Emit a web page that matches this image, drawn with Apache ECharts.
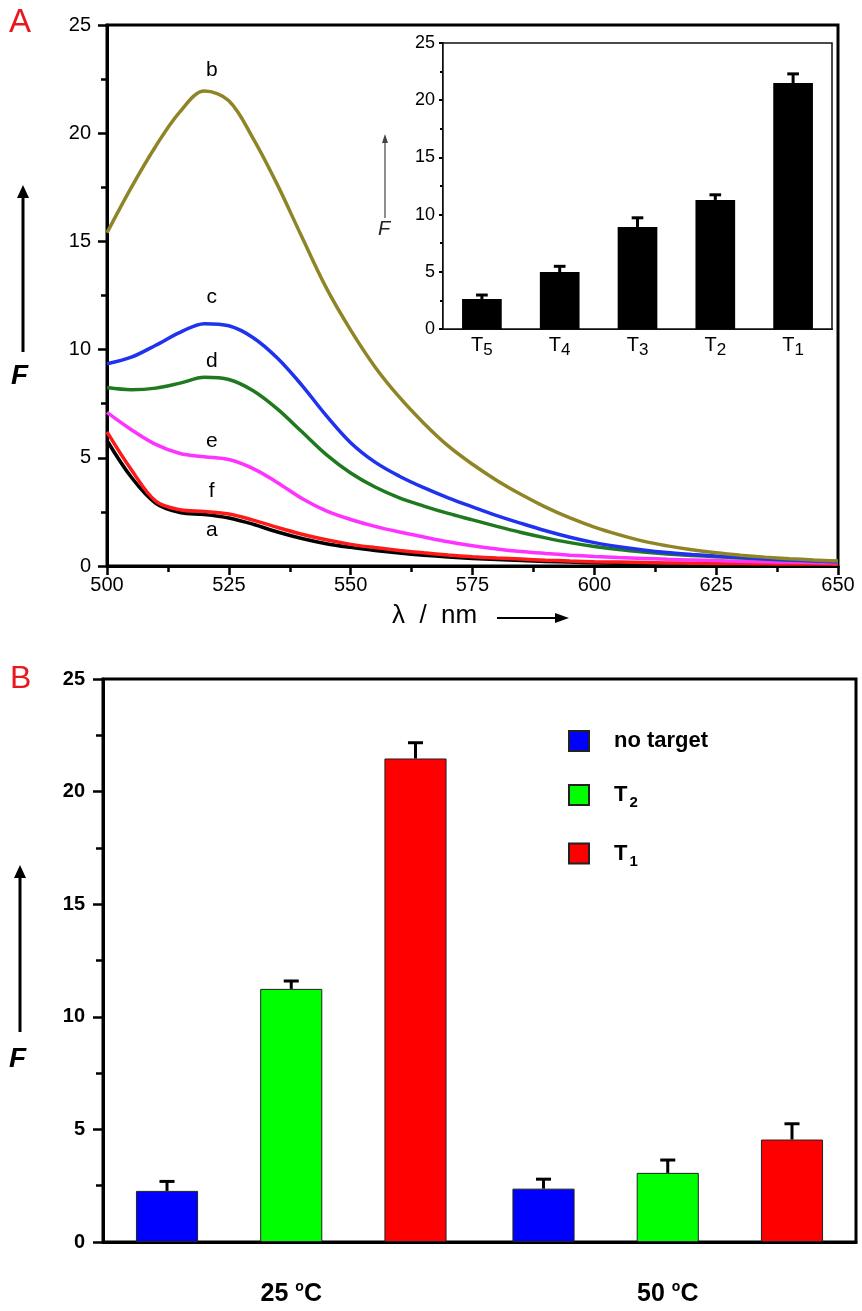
<!DOCTYPE html>
<html>
<head>
<meta charset="utf-8">
<script src="https://cdn.jsdelivr.net/npm/echarts@6/dist/echarts.min.js"></script>
<style>
  html, body { margin: 0; padding: 0; background: #fff; }
  #chart { width: 862px; height: 1311px; }
</style>
</head>
<body>
<div id="chart"></div>
<script>
// ---- panel A: spectra ----
var wavelength = [500, 505, 510, 515, 520, 525, 530, 535, 540, 545, 550, 555, 560, 565, 570, 575,
                  580, 585, 590, 595, 600, 605, 610, 615, 620, 625, 630, 635, 640, 645, 650];
var curveA = [5.8, 4.1, 2.9, 2.47, 2.38, 2.22, 1.93, 1.57, 1.27, 1.03, 0.86, 0.72, 0.6, 0.5, 0.42, 0.35,
              0.3, 0.25, 0.21, 0.18, 0.15, 0.13, 0.11, 0.1, 0.09, 0.08, 0.07, 0.06, 0.06, 0.05, 0.05];
var curveB = [15.4, 17.5, 19.4, 21.0, 21.95, 21.5, 19.75, 17.6, 15.2, 12.85, 10.9, 9.2, 7.8, 6.6, 5.55, 4.7,
              3.95, 3.3, 2.72, 2.22, 1.8, 1.45, 1.15, 0.93, 0.75, 0.61, 0.5, 0.41, 0.34, 0.28, 0.23];
var curveC = [9.35, 9.65, 10.2, 10.8, 11.2, 11.1, 10.55, 9.6, 8.35, 6.95, 5.7, 4.8, 4.15, 3.62, 3.15, 2.73,
              2.33, 1.97, 1.63, 1.33, 1.08, 0.89, 0.74, 0.62, 0.53, 0.46, 0.4, 0.34, 0.29, 0.24, 0.2];
var curveD = [8.25, 8.15, 8.22, 8.45, 8.72, 8.62, 8.1, 7.25, 6.2, 5.15, 4.3, 3.65, 3.15, 2.77, 2.43, 2.13,
              1.83, 1.55, 1.3, 1.08, 0.9, 0.76, 0.65, 0.56, 0.49, 0.43, 0.37, 0.32, 0.27, 0.23, 0.2];
var curveE = [7.1, 6.3, 5.62, 5.2, 5.05, 4.92, 4.5, 3.85, 3.12, 2.55, 2.15, 1.83, 1.57, 1.34, 1.12, 0.94,
              0.79, 0.67, 0.58, 0.5, 0.44, 0.39, 0.35, 0.31, 0.28, 0.25, 0.22, 0.2, 0.18, 0.16, 0.15];
var curveF = [6.2, 4.45, 3.0, 2.6, 2.52, 2.4, 2.12, 1.78, 1.47, 1.21, 1.0, 0.85, 0.72, 0.61, 0.51, 0.43,
              0.37, 0.32, 0.27, 0.23, 0.2, 0.18, 0.16, 0.14, 0.13, 0.12, 0.11, 0.1, 0.09, 0.09, 0.08];

// ---- inset: bars T5..T1 ----
var insetCats = ['5', '4', '3', '2', '1'];
var insetValues = [2.62, 4.98, 8.92, 11.28, 21.5];
var insetErrors = [0.35, 0.5, 0.8, 0.45, 0.8];

// ---- panel B ----
var tempCats = ['25', '50'];
var noTarget = [2.27, 2.37];
var noTargetErr = [0.42, 0.42];
var t2Values = [11.24, 3.07];
var t2Err = [0.35, 0.57];
var t1Values = [21.47, 4.55];
var t1Err = [0.7, 0.7];

var FONT = 'Liberation Sans, Arial, sans-serif';
var chart = echarts.init(document.getElementById('chart'));

function pairs(arr) {
  return wavelength.map(function (w, i) { return [w, arr[i]]; });
}

function curve(name, arr, color, label, labelY) {
  return {
    name: name, type: 'line', xAxisIndex: 0, yAxisIndex: 0,
    data: pairs(arr), showSymbol: false, smooth: 0.35,
    lineStyle: { color: color, width: 3.5 },
    markPoint: {
      symbol: 'circle', symbolSize: 1,
      itemStyle: { color: 'rgba(0,0,0,0)' },
      label: { show: true, position: 'inside', formatter: label, color: '#000', fontSize: 21, fontFamily: FONT },
      data: [{ coord: [521.5, labelY], name: label }]
    }
  };
}

// error bars drawn as a custom series; k = position of the bar inside its group
function errorBars(xi, yi, vals, errs, color, k, frac, capFrac) {
  return {
    type: 'custom', xAxisIndex: xi, yAxisIndex: yi, z: 5,
    data: vals.map(function (v, i) { return [i, v, errs[i]]; }),
    encode: { x: 0, y: 1 },
    renderItem: function (params, api) {
      var band = api.size([1, 0])[0];
      var base = api.coord([api.value(0), api.value(1)]);
      var top = api.coord([api.value(0), api.value(1) + api.value(2)]);
      var cx = base[0] + k * 2 * frac * band;
      var cw = capFrac * band / 2;
      var st = { stroke: color, lineWidth: 3 };
      return {
        type: 'group',
        children: [
          { type: 'line', shape: { x1: cx, y1: base[1], x2: cx, y2: top[1] }, style: st },
          { type: 'line', shape: { x1: cx - cw, y1: top[1], x2: cx + cw, y2: top[1] }, style: st }
        ]
      };
    }
  };
}

function arrowUp(x, yTop, yBottom, width, color) {
  return [
    { type: 'line', shape: { x1: x, y1: yBottom, x2: x, y2: yTop + 8 }, style: { stroke: color, lineWidth: width } },
    { type: 'polygon', shape: { points: [[x, yTop], [x - 3 - width, yTop + 13], [x + 3 + width, yTop + 13]] }, style: { fill: color } }
  ];
}

var option = {
  backgroundColor: '#fff',
  animation: false,
  grid: [
    { left: 107, top: 25, right: 24, bottom: 745, show: true, borderColor: '#000', borderWidth: 3, backgroundColor: 'transparent' },
    { left: 443, top: 43, right: 30, bottom: 982, show: true, borderColor: '#111', borderWidth: 1.5, backgroundColor: '#fff', z: 3 },
    { left: 103, top: 679, right: 6, bottom: 69, show: true, borderColor: '#000', borderWidth: 3 }
  ],
  xAxis: [
    {
      gridIndex: 0, type: 'value', min: 500, max: 650, interval: 25,
      axisLine: { lineStyle: { color: '#000', width: 3 } },
      axisTick: { show: true, length: 9, lineStyle: { color: '#000', width: 2.5 } },
      minorTick: { show: true, splitNumber: 2, length: 6, lineStyle: { color: '#000', width: 2.5 } },
      splitLine: { show: false },
      axisLabel: { color: '#000', fontSize: 20, fontFamily: FONT, margin: 9 }
    },
    {
      gridIndex: 1, type: 'category', data: insetCats,
      axisLine: { lineStyle: { color: '#000', width: 2 } },
      axisTick: { show: false },
      axisLabel: {
        margin: 6,
        formatter: function (v) { return '{t|T}{s|' + v + '}'; },
        rich: {
          t: { fontSize: 20, color: '#000', fontFamily: FONT, verticalAlign: 'top', lineHeight: 20 },
          s: { fontSize: 17, color: '#000', fontFamily: FONT, padding: [10, 0, 0, 0], lineHeight: 20 }
        }
      }
    },
    {
      gridIndex: 2, type: 'category', data: tempCats,
      axisLine: { lineStyle: { color: '#000', width: 3 } },
      axisTick: { show: false },
      axisLabel: {
        margin: 38,
        formatter: function (v) { return '{n|' + v + ' }{o|o}{n|C}'; },
        rich: {
          n: { fontSize: 25, fontWeight: 'bold', color: '#000', fontFamily: FONT },
          o: { fontSize: 14, fontWeight: 'bold', color: '#000', fontFamily: FONT, padding: [0, 0, 14, 0] }
        }
      }
    }
  ],
  yAxis: [
    {
      gridIndex: 0, type: 'value', min: 0, max: 25, interval: 5,
      axisLine: { show: true, lineStyle: { color: '#000', width: 3 } },
      axisTick: { show: true, length: 9, lineStyle: { color: '#000', width: 2.5 } },
      minorTick: { show: true, splitNumber: 2, length: 6, lineStyle: { color: '#000', width: 2.5 } },
      splitLine: { show: false },
      axisLabel: { color: '#000', fontSize: 20, fontFamily: FONT, margin: 16 }
    },
    {
      gridIndex: 1, type: 'value', min: 0, max: 25, interval: 5,
      axisLine: { show: true, lineStyle: { color: '#000', width: 2 } },
      axisTick: { show: true, length: 4, lineStyle: { color: '#000', width: 2 } },
      minorTick: { show: true, splitNumber: 2, length: 3, lineStyle: { color: '#000', width: 2 } },
      splitLine: { show: false },
      axisLabel: { color: '#000', fontSize: 18, fontFamily: FONT, margin: 8 }
    },
    {
      gridIndex: 2, type: 'value', min: 0, max: 25, interval: 5,
      axisLine: { show: true, lineStyle: { color: '#000', width: 3 } },
      axisTick: { show: true, length: 10, lineStyle: { color: '#000', width: 2.5 } },
      minorTick: { show: true, splitNumber: 2, length: 7, lineStyle: { color: '#000', width: 2.5 } },
      splitLine: { show: false },
      axisLabel: { color: '#000', fontSize: 20, fontWeight: 'bold', fontFamily: FONT, margin: 18 }
    }
  ],
  legend: {
    orient: 'vertical', left: 563, top: 725,
    itemWidth: 20, itemHeight: 20, itemGap: 32,
    icon: 'rect',
    data: ['no target', 'T2', 'T1'],
    formatter: function (n) {
      if (n === 'no target') return '{b|no target}';
      return '{b|T}{s|' + n.slice(1) + '}';
    },
    textStyle: {
      padding: [0, 0, 0, 20],
      rich: {
        b: { fontSize: 22, fontWeight: 'bold', color: '#000', fontFamily: FONT },
        s: { fontSize: 15, fontWeight: 'bold', color: '#000', fontFamily: FONT, padding: [16, 0, 0, 2] }
      }
    }
  },
  series: [
    curve('a', curveA, '#000000', 'a', 1.66),
    curve('f', curveF, '#ff1a1a', 'f', 3.45),
    curve('e', curveE, '#ff33ff', 'e', 5.75),
    curve('d', curveD, '#1f7a1f', 'd', 9.45),
    curve('c', curveC, '#1e32f0', 'c', 12.4),
    curve('b', curveB, '#8f8526', 'b', 22.9),
    {
      type: 'bar', xAxisIndex: 1, yAxisIndex: 1, data: insetValues, z: 4,
      barWidth: '51%', itemStyle: { color: '#000' }
    },
    errorBars(1, 1, insetValues, insetErrors, '#000', 0, 0, 0.15),
    {
      name: 'no target', type: 'bar', xAxisIndex: 2, yAxisIndex: 2, data: noTarget,
      barWidth: '16.5%', barGap: '100%',
      itemStyle: { color: '#0000ff', borderColor: '#222', borderWidth: 1 }
    },
    {
      name: 'T2', type: 'bar', xAxisIndex: 2, yAxisIndex: 2, data: t2Values,
      barWidth: '16.5%', barGap: '100%',
      itemStyle: { color: '#00ff00', borderColor: '#222', borderWidth: 1 }
    },
    {
      name: 'T1', type: 'bar', xAxisIndex: 2, yAxisIndex: 2, data: t1Values,
      barWidth: '16.5%', barGap: '100%',
      itemStyle: { color: '#ff0000', borderColor: '#222', borderWidth: 1 }
    },
    errorBars(2, 2, noTarget, noTargetErr, '#000', -1, 0.165, 0.04),
    errorBars(2, 2, t2Values, t2Err, '#000', 0, 0.165, 0.04),
    errorBars(2, 2, t1Values, t1Err, '#000', 1, 0.165, 0.04)
  ],
  graphic: [
    { type: 'text', left: 9, top: 6, style: { text: 'A', fill: '#e8181d', fontSize: 33, fontFamily: FONT } },
    { type: 'text', left: 10, top: 663, style: { text: 'B', fill: '#e8181d', fontSize: 32, fontFamily: FONT } }
  ]
    .concat(arrowUp(23, 185, 352, 3, '#000'))
    .concat([{ type: 'text', left: 11, top: 362, style: { text: 'F', fill: '#000', fontSize: 28, fontWeight: 'bold', fontStyle: 'italic', fontFamily: FONT } }])
    .concat(arrowUp(20, 865, 1032, 3, '#000'))
    .concat([{ type: 'text', left: 9, top: 1045, style: { text: 'F', fill: '#000', fontSize: 28, fontWeight: 'bold', fontStyle: 'italic', fontFamily: FONT } }])
    .concat([
      { type: 'line', z: 10, shape: { x1: 385, y1: 218, x2: 385, y2: 140 }, style: { stroke: '#444', lineWidth: 1.2 } },
      { type: 'polygon', z: 10, shape: { points: [[385, 134], [382, 143], [388, 143]] }, style: { fill: '#444' } },
      { type: 'text', z: 10, left: 378, top: 219, style: { text: 'F', fill: '#222', fontSize: 20, fontStyle: 'italic', fontFamily: FONT } },
      { type: 'text', left: 392, top: 603, style: { text: 'λ  /  nm', fill: '#000', fontSize: 26, fontFamily: FONT } },
      { type: 'line', shape: { x1: 497, y1: 618, x2: 558, y2: 618 }, style: { stroke: '#000', lineWidth: 2 } },
      { type: 'polygon', shape: { points: [[569, 618], [555, 613], [555, 623]] }, style: { fill: '#000' } }
    ])
};

chart.setOption(option);
</script>
</body>
</html>
